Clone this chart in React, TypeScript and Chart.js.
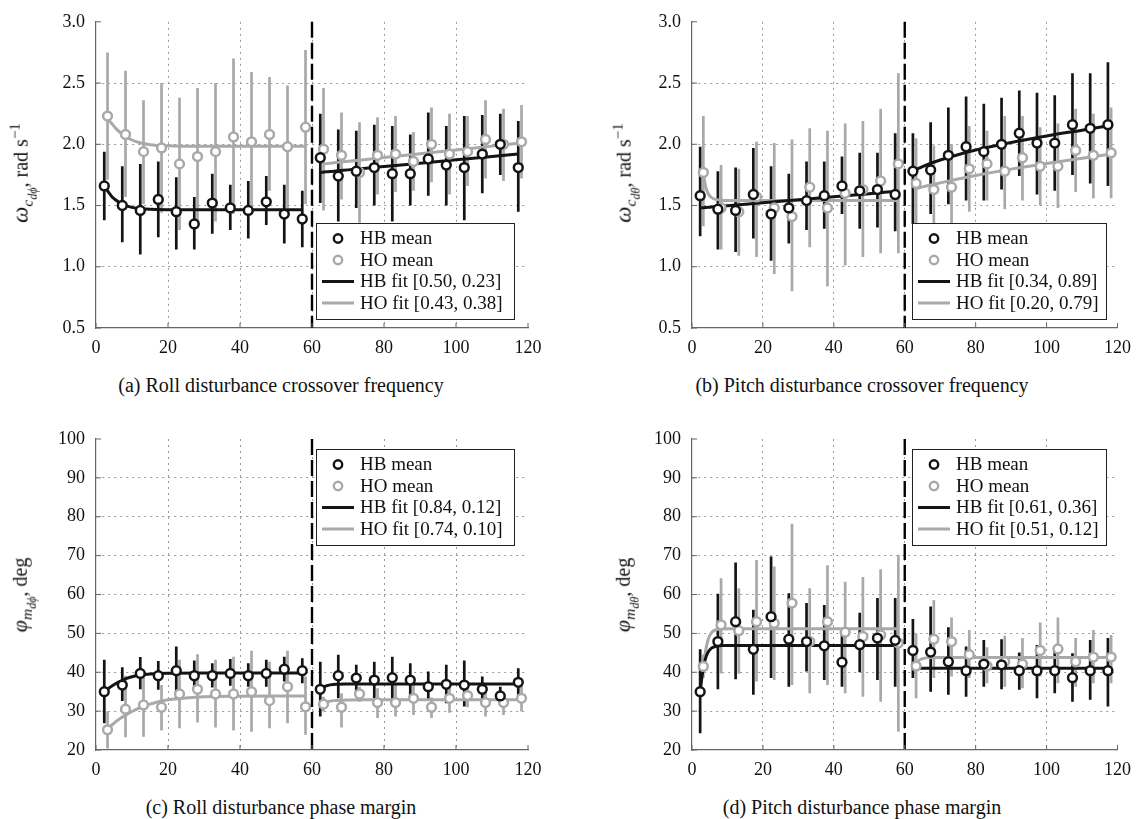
import React, { useEffect, useRef } from "react";
import { Chart, registerables } from "chart.js";
Chart.register(...registerables);

const SERIF = '"Liberation Serif", "Times New Roman", serif';
const HB_COLOR = "#141414";
const HO_COLOR = "#a9a9a9";
const dividerX = 60;

// trial positions
const hbX = [2.3, 7.3, 12.3, 17.3, 22.3, 27.3, 32.3, 37.3, 42.3, 47.3, 52.3, 57.3, 62.3, 67.3, 72.3, 77.3, 82.3, 87.3, 92.3, 97.3, 102.3, 107.3, 112.3, 117.3];
const hoX = [3.2, 8.2, 13.2, 18.2, 23.2, 28.2, 33.2, 38.2, 43.2, 48.2, 53.2, 58.2, 63.2, 68.2, 73.2, 78.2, 83.2, 88.2, 93.2, 98.2, 103.2, 108.2, 113.2, 118.2];

// fit sample positions
const fitXL_HB = [2.3, 3, 3.7, 4.5, 5.5, 7, 8.5, 10, 12.5, 15, 20, 30, 40, 50, 57.3];
const fitXL_HO = [3.2, 3.8, 4.5, 5.5, 7, 8.5, 10, 12.5, 15, 20, 25, 30, 40, 50, 58.2];
const fitXR_HB = [62.3, 63, 64, 65, 67, 70, 75, 80, 90, 100, 110, 117.3];
const fitXR_HO = [63.2, 64, 65, 66, 68, 70, 75, 80, 90, 100, 110, 118.2];

// (a) Roll disturbance crossover frequency
const aHbMean = [1.66, 1.50, 1.46, 1.55, 1.45, 1.35, 1.52, 1.48, 1.46, 1.53, 1.43, 1.39, 1.89, 1.74, 1.78, 1.81, 1.76, 1.76, 1.88, 1.83, 1.81, 1.92, 2.00, 1.81];
const aHbLow = [1.38, 1.20, 1.10, 1.24, 1.14, 1.14, 1.27, 1.30, 1.23, 1.34, 1.19, 1.16, 1.52, 1.37, 1.48, 1.50, 1.37, 1.50, 1.58, 1.50, 1.38, 1.60, 1.75, 1.45];
const aHbHigh = [1.94, 1.82, 1.84, 1.86, 1.73, 1.57, 1.76, 1.67, 1.70, 1.74, 1.67, 1.62, 2.25, 2.12, 2.11, 2.16, 2.15, 2.08, 2.26, 2.15, 2.23, 2.24, 2.25, 2.19];
const aHoMean = [2.23, 2.08, 1.94, 1.97, 1.84, 1.90, 1.94, 2.06, 2.02, 2.08, 1.98, 2.14, 1.96, 1.91, 1.77, 1.91, 1.92, 1.86, 2.00, 1.92, 1.94, 2.04, 2.00, 2.02];
const aHoLow = [1.71, 1.57, 1.51, 1.44, 1.30, 1.35, 1.37, 1.43, 1.45, 1.62, 1.48, 1.51, 1.46, 1.55, 1.36, 1.59, 1.61, 1.62, 1.69, 1.59, 1.66, 1.72, 1.70, 1.72];
const aHoHigh = [2.75, 2.60, 2.36, 2.50, 2.38, 2.46, 2.50, 2.70, 2.59, 2.55, 2.48, 2.77, 2.46, 2.26, 2.18, 2.22, 2.23, 2.10, 2.30, 2.25, 2.23, 2.36, 2.29, 2.32];
const aHbFitL = [1.66, 1.63, 1.60, 1.57, 1.545, 1.515, 1.497, 1.485, 1.474, 1.469, 1.466, 1.465, 1.465, 1.465, 1.465];
const aHoFitL = [2.22, 2.19, 2.165, 2.13, 2.09, 2.06, 2.035, 2.01, 1.997, 1.987, 1.984, 1.983, 1.983, 1.983, 1.983];
const aHbFitR = [1.770, 1.772, 1.775, 1.777, 1.783, 1.791, 1.805, 1.818, 1.846, 1.873, 1.900, 1.920];
const aHoFitR = [1.840, 1.842, 1.846, 1.849, 1.855, 1.861, 1.876, 1.892, 1.923, 1.954, 1.985, 2.010];

// (b) Pitch disturbance crossover frequency
const bHbMean = [1.58, 1.47, 1.46, 1.59, 1.43, 1.48, 1.54, 1.58, 1.66, 1.62, 1.63, 1.59, 1.78, 1.79, 1.91, 1.98, 1.94, 2.00, 2.09, 2.01, 2.01, 2.16, 2.13, 2.16];
const bHbLow = [1.25, 1.14, 1.12, 1.23, 1.05, 1.19, 1.30, 1.31, 1.43, 1.31, 1.32, 1.29, 1.35, 1.43, 1.51, 1.54, 1.54, 1.63, 1.74, 1.59, 1.62, 1.75, 1.68, 1.66];
const bHbHigh = [1.98, 1.78, 1.81, 1.97, 1.82, 1.76, 1.86, 1.86, 1.90, 1.93, 1.93, 2.09, 2.09, 2.18, 2.30, 2.39, 2.33, 2.38, 2.44, 2.42, 2.40, 2.58, 2.58, 2.67];
const bHoMean = [1.77, 1.48, 1.45, 1.57, 1.48, 1.41, 1.65, 1.48, 1.60, 1.63, 1.70, 1.84, 1.68, 1.63, 1.65, 1.80, 1.84, 1.78, 1.89, 1.82, 1.82, 1.95, 1.91, 1.93];
const bHoLow = [1.33, 1.14, 1.09, 1.08, 0.94, 0.80, 1.16, 0.84, 1.01, 1.08, 1.11, 1.11, 1.29, 1.27, 1.29, 1.45, 1.54, 1.47, 1.54, 1.50, 1.48, 1.61, 1.56, 1.56];
const bHoHigh = [2.23, 1.83, 1.80, 2.02, 2.01, 2.04, 2.13, 2.11, 2.17, 2.19, 2.29, 2.58, 2.05, 1.99, 2.00, 2.15, 2.11, 2.23, 2.23, 2.14, 2.17, 2.29, 2.25, 2.30];
const bHbFitL = [1.480, 1.482, 1.483, 1.485, 1.488, 1.492, 1.495, 1.499, 1.505, 1.511, 1.523, 1.548, 1.572, 1.597, 1.615];
const bHoFitL = [1.77, 1.66, 1.60, 1.565, 1.548, 1.544, 1.542, 1.541, 1.541, 1.541, 1.541, 1.541, 1.541, 1.541, 1.541];
const bHbFitR = [1.78, 1.79, 1.805, 1.818, 1.842, 1.872, 1.915, 1.953, 2.015, 2.068, 2.115, 2.15];
const bHoFitR = [1.637, 1.645, 1.652, 1.659, 1.672, 1.685, 1.716, 1.745, 1.797, 1.843, 1.886, 1.92];

// (c) Roll disturbance phase margin
const cHbMean = [35.0, 36.7, 39.7, 39.1, 40.4, 39.1, 39.1, 39.7, 39.1, 39.7, 40.8, 40.4, 35.6, 39.1, 38.5, 38.0, 38.6, 38.0, 36.3, 36.9, 36.7, 35.6, 33.9, 37.4];
const cHbLow = [26.9, 32.6, 35.6, 35.5, 32.9, 36.1, 36.1, 36.5, 36.3, 36.3, 37.6, 37.2, 28.6, 33.3, 35.0, 33.3, 32.6, 33.7, 32.6, 32.0, 31.2, 32.6, 31.6, 33.7];
const cHbHigh = [43.2, 41.3, 43.9, 42.9, 46.6, 43.0, 42.3, 43.4, 42.3, 43.2, 44.0, 43.6, 42.7, 44.5, 41.9, 42.7, 44.0, 42.3, 40.2, 41.9, 43.0, 38.9, 36.3, 41.0];
const cHoMean = [25.2, 30.5, 31.6, 31.0, 34.4, 35.6, 34.4, 34.4, 35.0, 32.7, 36.3, 31.1, 31.8, 31.0, 34.4, 32.2, 32.2, 33.3, 31.0, 33.3, 34.0, 32.2, 32.2, 33.3];
const cHoLow = [20.4, 23.3, 23.4, 25.0, 25.6, 27.1, 25.8, 25.0, 24.7, 25.6, 26.9, 23.9, 29.9, 25.8, 32.4, 28.2, 28.6, 29.0, 28.2, 29.6, 31.0, 28.6, 29.0, 29.9];
const cHoHigh = [30.0, 39.1, 40.4, 36.7, 43.2, 44.6, 43.2, 44.0, 45.5, 42.7, 45.5, 38.9, 33.7, 34.6, 36.3, 35.9, 37.2, 36.7, 33.5, 36.7, 36.7, 36.3, 34.6, 38.0];
const cHbFitL = [35.0, 35.5, 36.0, 36.5, 37.1, 37.8, 38.4, 38.85, 39.3, 39.55, 39.75, 39.8, 39.8, 39.8, 39.8];
const cHoFitL = [25.5, 26.0, 26.5, 27.3, 28.3, 29.1, 29.9, 31.0, 31.8, 32.9, 33.4, 33.7, 33.85, 33.9, 33.9];
const cHbFitR = [35.6, 36.1, 36.5, 36.75, 36.93, 36.98, 37.0, 37.0, 37.0, 37.0, 37.0, 37.0];
const cHoFitR = [31.9, 32.3, 32.55, 32.7, 32.82, 32.87, 32.9, 32.9, 32.9, 32.9, 32.9, 32.9];

// (d) Pitch disturbance phase margin
const dHbMean = [35.0, 47.9, 53.0, 45.9, 54.3, 48.5, 47.9, 46.8, 42.6, 47.1, 48.8, 48.2, 45.6, 45.2, 42.7, 40.4, 42.1, 41.9, 40.4, 40.4, 40.4, 38.6, 40.4, 40.4];
const dHbLow = [24.3, 35.6, 38.2, 34.2, 38.5, 36.3, 40.2, 38.0, 36.3, 40.0, 38.0, 36.3, 38.5, 35.0, 34.2, 33.7, 36.3, 35.6, 35.5, 33.3, 34.6, 32.4, 32.9, 31.2];
const dHbHigh = [45.9, 60.2, 68.2, 56.1, 69.8, 60.3, 57.8, 57.3, 50.0, 55.3, 59.1, 59.1, 53.7, 56.9, 51.6, 46.6, 48.3, 48.5, 45.1, 47.0, 46.6, 44.9, 48.3, 48.8];
const dHoMean = [41.5, 52.2, 50.7, 53.0, 52.6, 57.8, 47.9, 53.0, 50.3, 49.2, 49.6, 47.5, 41.6, 48.5, 47.9, 44.5, 41.6, 42.7, 42.1, 45.6, 46.0, 42.7, 43.9, 43.9];
const dHoLow = [38.5, 39.7, 39.6, 37.6, 38.0, 36.7, 34.6, 36.7, 34.6, 33.7, 32.4, 24.7, 33.3, 38.5, 38.9, 38.5, 37.2, 36.3, 35.9, 38.9, 37.2, 36.3, 37.2, 37.2];
const dHoHigh = [44.5, 64.2, 61.6, 68.9, 67.2, 78.2, 61.6, 67.5, 63.3, 64.5, 66.5, 70.2, 50.0, 58.6, 54.1, 50.9, 46.4, 49.4, 48.8, 52.8, 54.1, 48.8, 50.9, 49.6];
const dHbFitL = [35.0, 40.0, 43.2, 45.1, 46.2, 46.75, 46.9, 46.9, 46.9, 46.9, 46.9, 46.9, 46.9, 46.9, 46.9];
const dHoFitL = [41.3, 45.3, 48.3, 50.2, 51.0, 51.15, 51.2, 51.2, 51.2, 51.2, 51.2, 51.2, 51.2, 51.2, 51.2];
const dHbFitR = [41.0, 41.0, 41.0, 41.0, 41.0, 41.0, 41.0, 41.0, 41.0, 41.0, 41.0, 41.0];
const dHoFitR = [41.8, 43.0, 43.5, 43.7, 43.78, 43.8, 43.8, 43.8, 43.8, 43.8, 43.8, 43.8];

const legendA = ["HB mean", "HO mean", "HB fit [0.50, 0.23]", "HO fit [0.43, 0.38]"];
const legendB = ["HB mean", "HO mean", "HB fit [0.34, 0.89]", "HO fit [0.20, 0.79]"];
const legendC = ["HB mean", "HO mean", "HB fit [0.84, 0.12]", "HO fit [0.74, 0.10]"];
const legendD = ["HB mean", "HO mean", "HB fit [0.61, 0.36]", "HO fit [0.51, 0.12]"];

type Series = { mean: number[]; low: number[]; high: number[] };
type Spec = {
  id: string;
  canvas: { left: number; top: number; width: number; height: number };
  area: { left: number; right: number; top: number; bottom: number };
  yMin: number; yMax: number; yStep: number; decimals: number;
  hb: Series; ho: Series;
  hbFitL: number[]; hoFitL: number[]; hbFitR: number[]; hoFitR: number[];
  legend: string[]; legendPos: "br" | "tr"; legendWidth: number;
};

const specs: Spec[] = [
  {
    id: "a", canvas: { left: 0, top: 0, width: 570, height: 372 }, area: { left: 96, right: 528, top: 18, bottom: 328 },
    yMin: 0.5, yMax: 3.0, yStep: 0.5, decimals: 1,
    hb: { mean: aHbMean, low: aHbLow, high: aHbHigh }, ho: { mean: aHoMean, low: aHoLow, high: aHoHigh },
    hbFitL: aHbFitL, hoFitL: aHoFitL, hbFitR: aHbFitR, hoFitR: aHoFitR,
    legend: legendA, legendPos: "br", legendWidth: 198,
  },
  {
    id: "b", canvas: { left: 570, top: 0, width: 570, height: 372 }, area: { left: 692, right: 1124, top: 18, bottom: 328 },
    yMin: 0.5, yMax: 3.0, yStep: 0.5, decimals: 1,
    hb: { mean: bHbMean, low: bHbLow, high: bHbHigh }, ho: { mean: bHoMean, low: bHoLow, high: bHoHigh },
    hbFitL: bHbFitL, hoFitL: bHoFitL, hbFitR: bHbFitR, hoFitR: bHoFitR,
    legend: legendB, legendPos: "br", legendWidth: 194,
  },
  {
    id: "c", canvas: { left: 0, top: 400, width: 570, height: 395 }, area: { left: 96, right: 528, top: 439, bottom: 750 },
    yMin: 20, yMax: 100, yStep: 10, decimals: 0,
    hb: { mean: cHbMean, low: cHbLow, high: cHbHigh }, ho: { mean: cHoMean, low: cHoLow, high: cHoHigh },
    hbFitL: cHbFitL, hoFitL: cHoFitL, hbFitR: cHbFitR, hoFitR: cHoFitR,
    legend: legendC, legendPos: "tr", legendWidth: 198,
  },
  {
    id: "d", canvas: { left: 570, top: 400, width: 570, height: 395 }, area: { left: 692, right: 1124, top: 439, bottom: 750 },
    yMin: 20, yMax: 100, yStep: 10, decimals: 0,
    hb: { mean: dHbMean, low: dHbLow, high: dHbHigh }, ho: { mean: dHoMean, low: dHoLow, high: dHoHigh },
    hbFitL: dHbFitL, hoFitL: dHoFitL, hbFitR: dHbFitR, hoFitR: dHoFitR,
    legend: legendD, legendPos: "tr", legendWidth: 194,
  },
];

function pts(xs: number[], ys: number[]) {
  return xs.map((x, i) => ({ x, y: ys[i] }));
}
function errPts(xs: number[], lo: number[], hi: number[]) {
  const out: { x: number; y: number | null }[] = [];
  xs.forEach((x, i) => {
    out.push({ x, y: lo[i] }, { x, y: hi[i] }, { x, y: null });
  });
  return out;
}

function makeDecor(spec: Spec) {
  return {
    id: "panelDecor" + spec.id,
    afterDatasetsDraw(chart: any) {
      const { ctx, chartArea: a, scales } = chart;
      const x = scales.x;
      const y = scales.y;
      ctx.save();
      // divider line
      const dx = x.getPixelForValue(dividerX);
      ctx.strokeStyle = "#000";
      ctx.lineWidth = 2.4;
      ctx.setLineDash([16, 5]);
      ctx.beginPath();
      ctx.moveTo(dx, a.top);
      ctx.lineTo(dx, a.bottom);
      ctx.stroke();
      ctx.setLineDash([]);
      // inward tick marks
      ctx.strokeStyle = "#666";
      ctx.lineWidth = 1;
      x.ticks.forEach((t: any) => {
        const px = x.getPixelForValue(t.value);
        ctx.beginPath();
        ctx.moveTo(px, a.bottom);
        ctx.lineTo(px, a.bottom - 5);
        ctx.stroke();
      });
      y.ticks.forEach((t: any) => {
        const py = y.getPixelForValue(t.value);
        ctx.beginPath();
        ctx.moveTo(a.left, py);
        ctx.lineTo(a.left + 5, py);
        ctx.stroke();
      });
      // legend
      const bw = spec.legendWidth;
      const bh = 96;
      const bx = a.left + 220;
      const by = spec.legendPos === "br" ? a.bottom - 105 : a.top + 10;
      ctx.fillStyle = "#fff";
      ctx.fillRect(bx, by, bw, bh);
      ctx.strokeStyle = "#222";
      ctx.lineWidth = 1;
      ctx.strokeRect(bx + 0.5, by + 0.5, bw, bh);
      const rows = [15.5, 37, 58.5, 80];
      const colors = [HB_COLOR, HO_COLOR, HB_COLOR, HO_COLOR];
      rows.forEach((ry, i) => {
        const cy = by + ry;
        if (i < 2) {
          ctx.beginPath();
          ctx.arc(bx + 22, cy, 4.2, 0, Math.PI * 2);
          ctx.fillStyle = "#fff";
          ctx.fill();
          ctx.strokeStyle = colors[i];
          ctx.lineWidth = 2.4;
          ctx.stroke();
        } else {
          ctx.beginPath();
          ctx.moveTo(bx + 6, cy);
          ctx.lineTo(bx + 38, cy);
          ctx.strokeStyle = colors[i];
          ctx.lineWidth = 3;
          ctx.stroke();
        }
        ctx.fillStyle = "#111";
        ctx.font = "19px " + SERIF;
        ctx.textBaseline = "middle";
        ctx.textAlign = "left";
        ctx.fillText(spec.legend[i], bx + 44, cy + 1);
      });
      ctx.restore();
    },
  };
}

function buildConfig(spec: Spec): any {
  const { canvas, area } = spec;
  const padTop = area.top - canvas.top;
  const padRight = canvas.left + canvas.width - area.right;
  const yWidth = area.left - canvas.left;
  const xHeight = canvas.top + canvas.height - area.bottom;
  const tickFont = { family: SERIF, size: 18 };
  const gridColor = (lo: number, hi: number) => (ctx: any) => {
    const v = ctx.tick ? ctx.tick.value : NaN;
    if (Math.abs(v - lo) < 1e-9 || Math.abs(v - hi) < 1e-9) return "rgba(0,0,0,0)";
    return "#9a9a9a";
  };
  return {
    type: "line",
    data: {
      datasets: [
        {
          label: "HB mean", data: pts(hbX, spec.hb.mean), showLine: false,
          pointRadius: 4.4, pointBorderWidth: 2.5, pointBackgroundColor: "#fff", pointBorderColor: HB_COLOR, order: 0,
        },
        {
          label: "HO mean", data: pts(hoX, spec.ho.mean), showLine: false,
          pointRadius: 4.4, pointBorderWidth: 2.5, pointBackgroundColor: "#fff", pointBorderColor: HO_COLOR, order: 1,
        },
        {
          label: "HB fit L", data: pts(fitXL_HB, spec.hbFitL), borderColor: HB_COLOR, borderWidth: 3,
          pointRadius: 0, cubicInterpolationMode: "monotone", order: 2,
        },
        {
          label: "HB fit R", data: pts(fitXR_HB, spec.hbFitR), borderColor: HB_COLOR, borderWidth: 3,
          pointRadius: 0, cubicInterpolationMode: "monotone", order: 2,
        },
        {
          label: "HO fit L", data: pts(fitXL_HO, spec.hoFitL), borderColor: HO_COLOR, borderWidth: 3,
          pointRadius: 0, cubicInterpolationMode: "monotone", order: 3,
        },
        {
          label: "HO fit R", data: pts(fitXR_HO, spec.hoFitR), borderColor: HO_COLOR, borderWidth: 3,
          pointRadius: 0, cubicInterpolationMode: "monotone", order: 3,
        },
        {
          label: "HB err", data: errPts(hbX, spec.hb.low, spec.hb.high), borderColor: HB_COLOR, borderWidth: 2.7,
          pointRadius: 0, spanGaps: false, borderCapStyle: "butt", order: 4,
        },
        {
          label: "HO err", data: errPts(hoX, spec.ho.low, spec.ho.high), borderColor: HO_COLOR, borderWidth: 2.7,
          pointRadius: 0, spanGaps: false, borderCapStyle: "butt", order: 5,
        },
      ],
    },
    options: {
      animation: false,
      responsive: false,
      events: [],
      layout: { padding: { top: padTop, right: padRight, left: 0, bottom: 0 } },
      plugins: { legend: { display: false }, tooltip: { enabled: false }, title: { display: false } },
      scales: {
        x: {
          type: "linear", min: 0, max: 120,
          afterFit: (s: any) => { s.height = xHeight; },
          ticks: { stepSize: 20, font: tickFont, color: "#111", padding: 9, maxRotation: 0 },
          grid: { color: gridColor(0, 120), lineWidth: 1, drawTicks: false },
          border: { display: true, color: "#666", width: 1.2, dash: [2, 4] },
        },
        y: {
          type: "linear", min: spec.yMin, max: spec.yMax,
          afterFit: (s: any) => { s.width = yWidth; },
          ticks: {
            stepSize: spec.yStep, font: tickFont, color: "#111", padding: 11,
            callback: (v: any) => Number(v).toFixed(spec.decimals),
          },
          grid: { color: gridColor(spec.yMin, spec.yMax), lineWidth: 1, drawTicks: false },
          border: { display: true, color: "#666", width: 1.2, dash: [2, 4] },
        },
      },
    },
    plugins: [makeDecor(spec)],
  };
}

function Panel({ spec }: { spec: Spec }) {
  const ref = useRef<HTMLCanvasElement | null>(null);
  useEffect(() => {
    if (!ref.current) return;
    const chart = new Chart(ref.current, buildConfig(spec));
    return () => chart.destroy();
  }, [spec]);
  const c = spec.canvas;
  return (
    <canvas
      ref={ref}
      width={c.width}
      height={c.height}
      style={{ position: "absolute", left: c.left, top: c.top, width: c.width, height: c.height }}
    />
  );
}

const Sub = ({ children }: { children: any }) => (
  <span style={{ fontSize: "0.78em", verticalAlign: "-0.3em" }}>{children}</span>
);
const Sup = ({ children }: { children: any }) => (
  <span style={{ fontSize: "0.75em", verticalAlign: "0.55em" }}>{children}</span>
);

const yTitles = [
  { x: 23, y: 173, node: (<><i style={{ fontSize: "1.15em" }}>ω</i><Sub><i>c</i><Sub><i>dϕ</i></Sub></Sub>, rad s<Sup>−1</Sup></>) },
  { x: 626, y: 173, node: (<><i style={{ fontSize: "1.15em" }}>ω</i><Sub><i>c</i><Sub><i>dθ</i></Sub></Sub>, rad s<Sup>−1</Sup></>) },
  { x: 23, y: 595, node: (<><i style={{ fontSize: "1.1em" }}>φ</i><Sub><i>m</i><Sub><i>dϕ</i></Sub></Sub>, deg</>) },
  { x: 626, y: 595, node: (<><i style={{ fontSize: "1.1em" }}>φ</i><Sub><i>m</i><Sub><i>dθ</i></Sub></Sub>, deg</>) },
];

const captions = [
  { x: 281, y: 385, text: "(a) Roll disturbance crossover frequency" },
  { x: 862, y: 385, text: "(b) Pitch disturbance crossover frequency" },
  { x: 281, y: 807, text: "(c) Roll disturbance phase margin" },
  { x: 862, y: 807, text: "(d) Pitch disturbance phase margin" },
];

export default function App() {
  return (
    <div
      style={{
        position: "absolute", left: 0, top: 0, width: 1140, height: 819,
        background: "#fff", overflow: "hidden", fontFamily: SERIF, color: "#111",
      }}
    >
      {specs.map((s) => (
        <Panel key={s.id} spec={s} />
      ))}
      {yTitles.map((t, i) => (
        <div
          key={"yt" + i}
          style={{
            position: "absolute", left: t.x, top: t.y, fontSize: 20, lineHeight: 1,
            whiteSpace: "nowrap", transform: "translate(-50%, -50%) rotate(-90deg)",
          }}
        >
          {t.node}
        </div>
      ))}
      {captions.map((c, i) => (
        <div
          key={"cap" + i}
          style={{
            position: "absolute", left: c.x, top: c.y, fontSize: 20, lineHeight: 1,
            whiteSpace: "nowrap", transform: "translate(-50%, -50%)",
          }}
        >
          {c.text}
        </div>
      ))}
    </div>
  );
}
